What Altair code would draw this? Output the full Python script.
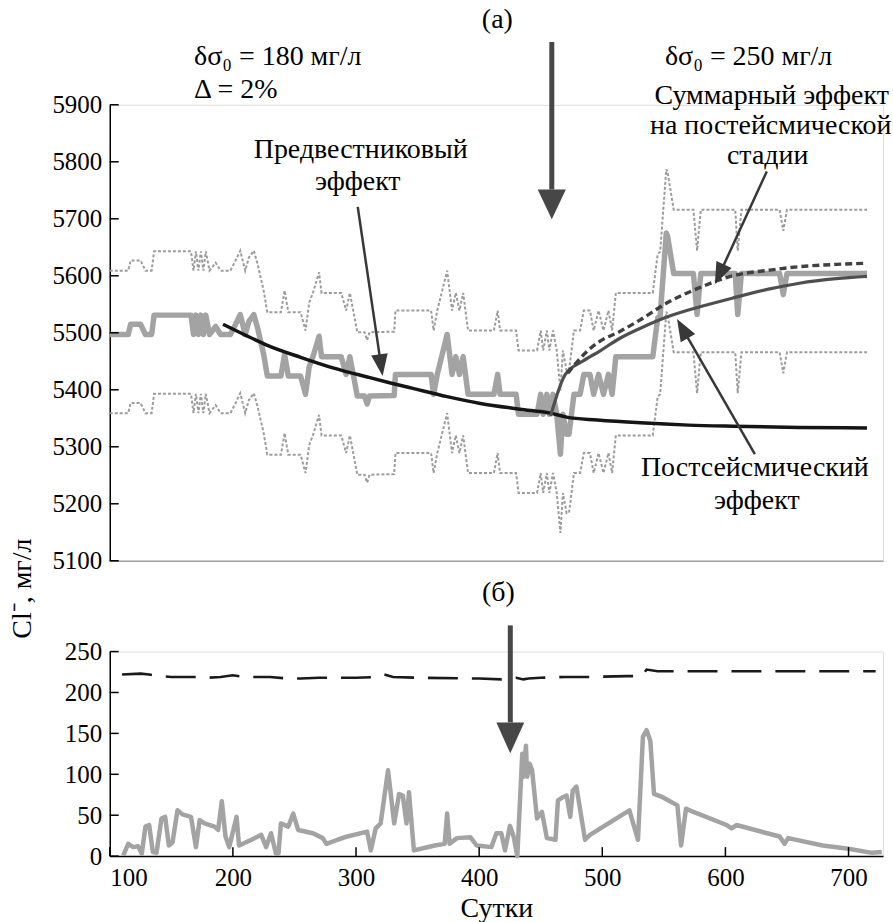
import math
import altair as alt
import pandas as pd

FONT = "Liberation Serif"

# ---------------- panel (a) data ----------------
days_a = [100, 115, 117, 125, 129, 134, 136, 166, 168, 170, 172, 174, 176, 178, 181,
          186, 190, 198, 202, 206, 210, 213, 217, 220, 225, 228, 239, 242, 245, 255,
          259, 262, 265, 270, 272, 288, 292, 295, 298, 301, 307, 309, 311, 331, 332,
          361, 363, 366, 374, 378, 381, 384, 387, 391, 412, 415, 417, 430, 432, 447,
          450, 452, 455, 457, 460, 463, 466, 468, 471, 473, 477, 482, 485, 490, 493,
          497, 501, 505, 508, 511, 541, 545, 547, 552, 553, 558, 574, 577, 580, 608,
          610, 613, 644, 647, 650, 715]
gray_a = [5497, 5497, 5515, 5515, 5497, 5497, 5531, 5531, 5497, 5531, 5497, 5531, 5497, 5531, 5497,
          5511, 5497, 5497, 5514, 5532, 5497, 5520, 5532, 5509, 5462, 5424, 5424, 5462, 5424, 5424,
          5392, 5441, 5458, 5494, 5458, 5458, 5427, 5458, 5424, 5389, 5389, 5375, 5389, 5390, 5427,
          5427, 5392, 5427, 5497, 5427, 5458, 5427, 5458, 5392, 5392, 5427, 5392, 5392, 5357, 5357,
          5392, 5357, 5392, 5357, 5392, 5357, 5287, 5357, 5322, 5322, 5392, 5392, 5427, 5427, 5392,
          5427, 5392, 5427, 5392, 5458, 5458, 5526, 5530, 5675, 5670, 5604, 5604, 5532, 5604, 5604,
          5532, 5604, 5604, 5567, 5604, 5604]
upper_a = [5609, 5609, 5627, 5627, 5609, 5609, 5643, 5643, 5609, 5643, 5609, 5643, 5609, 5643, 5609,
           5623, 5609, 5609, 5626, 5644, 5609, 5632, 5644, 5621, 5574, 5536, 5536, 5574, 5536, 5536,
           5504, 5553, 5570, 5606, 5570, 5570, 5539, 5570, 5536, 5501, 5501, 5487, 5501, 5502, 5539,
           5539, 5504, 5539, 5609, 5539, 5570, 5539, 5570, 5504, 5504, 5539, 5504, 5504, 5469, 5469,
           5504, 5469, 5504, 5469, 5504, 5469, 5399, 5469, 5434, 5434, 5504, 5504, 5539, 5539, 5504,
           5539, 5504, 5539, 5504, 5570, 5570, 5638, 5642, 5787, 5782, 5716, 5716, 5644, 5716, 5716,
           5644, 5716, 5716, 5679, 5716, 5716]
lower_a = [5359, 5359, 5377, 5377, 5359, 5359, 5393, 5393, 5359, 5393, 5359, 5393, 5359, 5393, 5359,
           5373, 5359, 5359, 5376, 5394, 5359, 5382, 5394, 5371, 5324, 5286, 5286, 5324, 5286, 5286,
           5254, 5303, 5320, 5356, 5320, 5320, 5289, 5320, 5286, 5251, 5251, 5237, 5251, 5252, 5289,
           5289, 5254, 5289, 5359, 5289, 5320, 5289, 5320, 5254, 5254, 5289, 5254, 5254, 5219, 5219,
           5254, 5219, 5254, 5219, 5254, 5219, 5149, 5219, 5184, 5184, 5254, 5254, 5289, 5289, 5254,
           5289, 5254, 5289, 5254, 5320, 5320, 5388, 5392, 5537, 5532, 5466, 5466, 5394, 5466, 5466,
           5394, 5466, 5466, 5429, 5466, 5466]

prec_days = [192, 210, 228, 255, 282, 310, 328, 347, 374, 401, 433, 458, 471, 496, 531, 570, 606, 660, 715]
prec_vals = [5515, 5496, 5478, 5457, 5438, 5422, 5412, 5402, 5388, 5376, 5366, 5359, 5352, 5347, 5342,
             5338, 5336, 5334, 5333]

post_days = [458, 470, 484, 498, 514, 531, 553, 580, 606, 636, 660, 690, 715]
post_vals = [5354, 5427, 5450, 5468, 5490, 5508, 5528, 5546, 5561, 5577, 5587, 5595, 5599]

sum_days = [472, 485, 498, 514, 531, 553, 580, 606, 636, 660, 690, 715]
sum_vals = [5429, 5462, 5485, 5502, 5523, 5553, 5580, 5600, 5610, 5616, 5620, 5622]

ticks_a = [5100, 5200, 5300, 5400, 5500, 5600, 5700, 5800, 5900]

# ---------------- panel (b) data ----------------
days_b = [111, 115, 119, 123, 126, 129, 132, 135, 138, 142, 145, 148, 151, 155, 159, 166, 170, 173,
          177, 185, 188, 191, 194, 197, 203, 205, 215, 223, 227, 231, 235, 237, 239, 245, 249, 253,
          265, 273, 276, 285, 293, 309, 312, 316, 320, 326, 331, 335, 338, 341, 343, 347, 364, 372,
          374, 376, 382, 393, 398, 410, 414, 418, 421, 425, 428, 431, 435, 436, 438, 439, 441, 443,
          447, 451, 455, 462, 464, 468, 471, 474, 476, 479, 486, 490, 522, 529, 533, 536, 539, 542,
          549, 561, 564, 568, 574, 601, 605, 609, 644, 648, 651, 679, 700, 719, 727]
conc_b = [1, 15, 11, 12, 3, 36, 38, 5, 4, 46, 48, 13, 17, 56, 51, 48, 11, 44,
          40, 36, 32, 67, 24, 11, 48, 13, 20, 26, 11, 28, 3, 3, 40, 36, 52, 32,
          28, 22, 15, 20, 24, 30, 7, 34, 40, 105, 40, 76, 74, 40, 78, 7, 13, 15,
          52, 15, 22, 23, 13, 11, 28, 28, 7, 37, 24, 0, 125, 97, 135, 97, 113, 105,
          46, 54, 22, 20, 68, 72, 74, 48, 80, 85, 20, 26, 56, 20, 146, 154, 141, 76,
          72, 62, 13, 58, 54, 38, 34, 38, 24, 15, 22, 13, 9, 4, 5]

dash_days = [110, 125, 132, 140, 150, 170, 180, 190, 200, 210, 230, 245, 255, 270, 300, 318, 323,
             330, 350, 400, 418, 425, 430, 436, 440, 450, 470, 490, 520, 532, 536, 545, 600, 722]
dash_vals = [222, 223, 222, 220, 219, 219, 218, 219, 221, 219, 219, 217, 217, 218, 218, 219, 222,
             219, 218, 217, 216, 217, 218, 216, 217, 218, 219, 219, 220, 220, 228, 226, 226, 226]

ticks_b_y = [0, 50, 100, 150, 200, 250]
ticks_b_x = [100, 200, 300, 400, 500, 600, 700]

# ---------------- geometry ----------------
W, HA, HB = 775, 457, 205
XDOM = [100, 728]
KX = W / (XDOM[1] - XDOM[0])
KYA = HA / 800
KYB = HB / 250
TXT = 28

xs = alt.Scale(domain=XDOM, nice=False, zero=False)
ysa = alt.Scale(domain=[5100, 5900], nice=False, zero=False)
ysb = alt.Scale(domain=[0, 250], nice=False, zero=False)

axis_common = dict(labelFont=FONT, labelFontSize=25, labelColor="black", grid=False,
                   tickSize=0, domainColor="black", domainWidth=1.5)

x_top = alt.X("d:Q", scale=xs, axis=alt.Axis(labels=False, ticks=False, title=None, grid=False,
                                              domainColor="#a0a0a0", domainWidth=1.5))
y_top = alt.Y("v:Q", scale=ysa, axis=alt.Axis(values=ticks_a, format="d", title=None,
                                               labelPadding=8, **axis_common))
x_bot = alt.X("d:Q", scale=xs, axis=alt.Axis(values=ticks_b_x, format="d", title="Сутки",
                                              titleFont=FONT, titleFontSize=TXT,
                                              titleFontWeight="normal", titleColor="black",
                                              titlePadding=5, labelPadding=9, **axis_common))
y_bot = alt.Y("v:Q", scale=ysb, axis=alt.Axis(values=ticks_b_y, format="d", title=None,
                                               labelPadding=8, **axis_common))


def df(d, v):
    return pd.DataFrame({"d": d, "v": v})


def line(d, v, xe, ye, **kw):
    return alt.Chart(df(d, v)).mark_line(**kw).encode(x=xe, y=ye)


def arrow(tail, tip, L, ratio, sw, color, ky, xe, ye, back):
    dxp = (tip[0] - tail[0]) * KX
    dyp = -(tip[1] - tail[1]) * ky
    n = math.hypot(dxp, dyp)
    ux, uy = dxp / n, dyp / n
    end_d = tip[0] - ux * L * back / KX
    end_v = tip[1] + uy * L * back / ky
    ang = math.degrees(math.atan2(dxp, -dyp)) % 360
    shaft = alt.Chart(pd.DataFrame({"d": [tail[0]], "v": [tail[1]], "d2": [end_d], "v2": [end_v]})).mark_rule(
        strokeWidth=sw, color=color, strokeCap="butt").encode(x=xe, y=ye, x2="d2:Q", y2="v2:Q")
    head = alt.Chart(df([tip[0]], [tip[1]])).mark_point(
        shape=f"M0,0L{-ratio},1L{ratio},1Z", size=(2 * L) ** 2, angle=ang, filled=True,
        opacity=1, color=color, strokeWidth=0).encode(x=xe, y=ye)
    return shaft + head


def texts(rows, xe, ye, align="center", size=TXT):
    data = pd.DataFrame(rows, columns=["d", "v", "t"])
    return alt.Chart(data).mark_text(font=FONT, fontSize=size, align=align, baseline="middle",
                                     color="black").encode(x=xe, y=ye, text="t:N")


# ---------------- top panel ----------------
top_layers = [
    line(days_a, upper_a, x_top, y_top, color="#9c9c9c", strokeWidth=2, strokeDash=[3, 2]),
    line(days_a, lower_a, x_top, y_top, color="#9c9c9c", strokeWidth=2, strokeDash=[3, 2]),
    line(days_a, gray_a, x_top, y_top, color="#a3a3a3", strokeWidth=5.5, strokeJoin="round"),
    line(prec_days, prec_vals, x_top, y_top, color="#151515", strokeWidth=3.5, interpolate="monotone"),
    line(post_days, post_vals, x_top, y_top, color="#4f4f4f", strokeWidth=3.2, interpolate="monotone"),
    line(sum_days, sum_vals, x_top, y_top, color="#404040", strokeWidth=3.4, strokeDash=[7, 4],
         interpolate="monotone"),
    alt.Chart(pd.DataFrame({"v": ticks_a})).mark_rule(color="black", strokeWidth=1.5).encode(
        x=alt.value(0), x2=alt.value(9), y=y_top),
    arrow((459, 6010), (459, 5699), 30, 0.47, 5, "#474747", KYA, x_top, y_top, 1.0),
    arrow((301.4, 5721), (321.6, 5424), 22, 0.38, 2.5, "#383838", KYA, x_top, y_top, 0.7),
    arrow((633.6, 5783), (591.4, 5585), 22, 0.38, 2.5, "#383838", KYA, x_top, y_top, 0.7),
    arrow((623.9, 5287), (560.7, 5524), 22, 0.38, 2.5, "#383838", KYA, x_top, y_top, 0.7),
    texts([(414.8, 6049, "(а)"),
           (637.6, 5916, "Суммарный эффект"),
           (636.8, 5862, "на постейсмической"),
           (634.3, 5811, "стадии"),
           (303.8, 5821, "Предвестниковый"),
           (301.4, 5765, "эффект"),
           (623.9, 5263, "Постсейсмический"),
           (625.5, 5205, "эффект")], x_top, y_top),
    texts([(168.5, 5984, "δσ₀ = 180 мг/л"),
           (168.5, 5926, "Δ = 2%"),
           (550.9, 5984, "δσ₀ = 250 мг/л")], x_top, y_top, align="left"),
]
top = alt.layer(*top_layers).properties(width=W, height=HA)

# ---------------- bottom panel ----------------
bot_layers = [
    line(dash_days, dash_vals, x_bot, y_bot, color="#1a1a1a", strokeWidth=2.6, strokeDash=[30, 14]),
    line(days_b, conc_b, x_bot, y_bot, color="#a3a3a3", strokeWidth=4.5, strokeJoin="round"),
    alt.Chart(pd.DataFrame({"v": ticks_b_y})).mark_rule(color="black", strokeWidth=1.5).encode(
        x=alt.value(0), x2=alt.value(9), y=y_bot),
    alt.Chart(pd.DataFrame({"d": ticks_b_x})).mark_rule(color="black", strokeWidth=1.5).encode(
        x=x_bot, y=alt.value(HB - 9), y2=alt.value(HB)),
    arrow((425.3, 282), (425.3, 125.6), 31, 0.45, 5, "#474747", KYB, x_bot, y_bot, 1.0),
    texts([(415.6, 322, "(б)")], x_bot, y_bot),
    alt.Chart(pd.DataFrame({"d": [29.9], "v": [327], "t": ["Cl⁻, мг/л"]})).mark_text(
        font=FONT, fontSize=TXT, angle=270, align="center", baseline="middle", color="black").encode(
        x=x_bot, y=y_bot, text="t:N"),
]
bot = alt.layer(*bot_layers).properties(width=W, height=HB)

chart = alt.vconcat(top, bot, spacing=91, bounds="flush").properties(
    padding={"left": 8, "top": 4, "right": 0, "bottom": 0}
).configure_view(stroke=None).configure(background="white")

chart.save("out.html", embed_options={"renderer": "svg", "actions": False})
